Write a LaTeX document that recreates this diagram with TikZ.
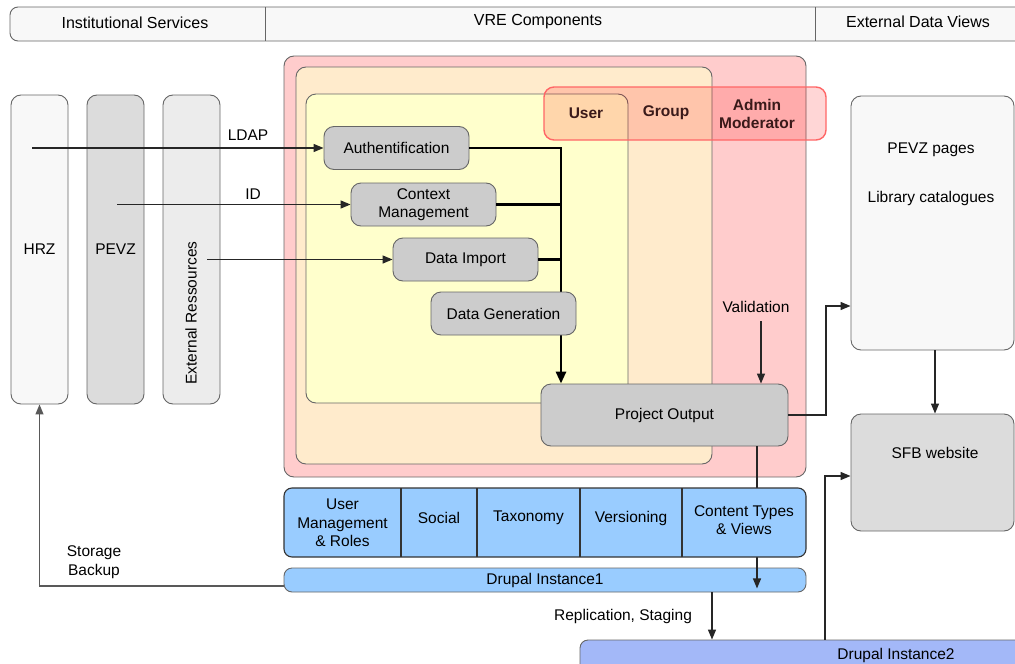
\documentclass[tikz,border=0pt]{standalone}
\usepackage{fontspec}
\setmainfont{Liberation Sans}
\usetikzlibrary{arrows.meta,calc}
\definecolor{pinkfill}{HTML}{FFCCCC}
\definecolor{orangefill}{HTML}{FFEBCC}
\definecolor{yellowfill}{HTML}{FFFFCC}
\definecolor{boxgray}{HTML}{CCCCCC}
\definecolor{midgray}{HTML}{DCDCDC}
\definecolor{lightgray}{HTML}{ECECEC}
\definecolor{palegray}{HTML}{F8F8F8}
\definecolor{bordergray}{HTML}{666666}
\definecolor{drupalblue}{HTML}{99CCFF}
\definecolor{drupaltwo}{HTML}{A3B8F8}
\definecolor{overlayred}{HTML}{FF6666}
\definecolor{rolestext}{HTML}{3A1A1A}
\newcommand\bodyf{\fontsize{15.5}{18.5}\selectfont}
\newcommand\hdrf{\fontsize{16}{19}\selectfont}
\begin{document}
\begin{tikzpicture}[x=1pt,y=-1pt,
  frame/.style={draw=bordergray, line width=0.9pt},
  colbox/.style={frame, rounded corners=10pt, minimum width=57pt, minimum height=309pt, inner sep=0pt, font=\bodyf},
  gbox/.style={frame, fill=boxgray, rounded corners=10pt, minimum width=145pt, minimum height=43pt, inner sep=0pt, font=\bodyf, align=center},
  txt/.style={inner sep=0pt, font=\bodyf, align=center},
  roletxt/.style={inner sep=0pt, font=\bodyf\bfseries, text=rolestext, align=center},
  arr/.style={-{Triangle[length=10pt,width=8pt]}, line width=1.3pt, draw=black!85},
  garr/.style={-{Triangle[length=10pt,width=8pt]}, line width=1.2pt, draw=black!65},
  tline/.style={line width=2.8pt, draw=black},
  tarr/.style={tline, -{Triangle[length=12pt,width=10pt]}}
]
\useasboundingbox (0,0) rectangle (1015,664);
\clip (0,0) rectangle (1015,664);

% header
\draw[frame, fill=palegray, rounded corners=8pt] (10,7) rectangle (1040,41);
\draw[frame] (265,7) -- (265,41);
\draw[frame] (815,7) -- (815,41);
\node[txt, font=\hdrf] (hIS) at (135,23) {Institutional Services};
\node[txt, font=\hdrf] (hVRE) at (538,22) {VRE Components};
\node[txt, font=\hdrf] (hEDV) at (918,22) {External Data Views};

% institutional columns
\node[colbox, fill=palegray] (HRZ) at (39.5,249.5) {HRZ};
\node[colbox, fill=midgray] (PEVZ) at (115.5,249.5) {PEVZ};
\node[colbox, fill=lightgray] (ExtR) at (191.5,249.5) {};
\node[txt, rotate=90] (ExtRlabel) at (191,313) {External Ressources};

% VRE nested areas
\node[frame, fill=pinkfill, rounded corners=10pt, minimum width=522pt, minimum height=421pt] (VRE) at (545,266.5) {};
\node[frame, fill=orangefill, rounded corners=10pt, minimum width=416pt, minimum height=397pt] (GRP) at (504,265.5) {};
\node[frame, fill=yellowfill, rounded corners=10pt, minimum width=322pt, minimum height=309pt] (USR) at (467,248.5) {};

% roles overlay
\node[draw=overlayred, line width=1.4pt, fill=red, fill opacity=0.16, draw opacity=1, rounded corners=10pt, minimum width=282pt, minimum height=53pt] (Roles) at (685,113.5) {};
\node[roletxt] (rUser) at (586,113) {User};
\node[roletxt] (rGroup) at (666,113) {Group};
\node[roletxt] (rAdmin) at (757,114) {Admin\\Moderator};

% process boxes
\node[gbox] (Auth) at (396.5,148) {Authentification};
\node[gbox] (Ctx) at (423.5,204.5) {Context\\Management};
\node[gbox] (DI) at (465.5,259.5) {Data Import};
\node[gbox, minimum width=247pt, minimum height=62pt] (PO) at (664.5,415) {Project Output};

% thick bus
\coordinate (bus) at (561,0);
\draw[tarr] (Auth.east) -| (bus |- PO.north);
\draw[tline] (Ctx.east) -- (Ctx.east -| bus);
\draw[tline] (DI.east) -- (DI.east -| bus);
\node[gbox] (DG) at (503.5,313.5) {Data Generation};

% inputs
\coordinate (ldapS) at (32,0);
\coordinate (idS) at (117,0);
\coordinate (extS) at (207,0);
\draw[arr] (ldapS |- Auth.west) -- (Auth.west);
\node[txt] (LDAP) at (248,135) {LDAP};
\draw[arr] (idS |- Ctx.west) -- (Ctx.west);
\node[txt] (IDl) at (253,194) {ID};
\draw[arr] (extS |- DI.west) -- (DI.west);

% validation
\node[txt] (Val) at (756,307) {Validation};
\coordinate (valx) at (761,0);
\draw[arr] (valx |- 0,321) -- (valx |- PO.north);

% external data views
\node[frame, fill=palegray, rounded corners=10pt, minimum width=163pt, minimum height=254pt] (PP) at (932.5,223) {};
\node[txt] (PPt1) at (931,150) {PEVZ pages};
\node[txt] (PPt2) at (931,198) {Library catalogues};
\node[frame, fill=midgray, rounded corners=10pt, minimum width=163pt, minimum height=117pt] (SFB) at (932.5,472.5) {};
\node[txt] (SFBt) at (935,453) {SFB website};
\coordinate (elbowA) at (826,306);
\draw[arr] (PO.east) -| (elbowA) -- (PP.west |- elbowA);
\draw[arr] (PP.south -| 935,0) -- (SFB.north -| 935,0);

% drupal instances
\node[frame, fill=drupalblue, rounded corners=8pt, minimum width=522pt, minimum height=24pt, inner sep=0pt, font=\bodyf] (D1) at (545,580) {Drupal Instance1};
\node[frame, fill=drupaltwo, rounded corners=8pt, minimum width=450pt, minimum height=40pt] (D2) at (805,660) {};
\node[txt] (D2t) at (896,655) {Drupal Instance2};

\coordinate (dx) at (757,0);
\draw[arr, shorten >=4pt] (dx |- PO.south) -- (dx |- D1.south);

% drupal components
\node[draw=black!80, line width=1.1pt, fill=drupalblue, rounded corners=8pt, minimum width=522pt, minimum height=69pt] (Comp) at (545,522.5) {};
\draw[black!80, line width=1.1pt] (401,488) -- (401,557);
\draw[black!80, line width=1.1pt] (477,488) -- (477,557);
\draw[black!80, line width=1.1pt] (580,488) -- (580,557);
\draw[black!80, line width=1.1pt] (682,488) -- (682,557);
\node[txt] (cUM) at (342.5,523) {User\\Management\\\& Roles};
\node[txt] (cSo) at (439,518) {Social};
\node[txt] (cTa) at (528.5,518) {Taxonomy};
\node[txt] (cVe) at (631,518) {Versioning};
\node[txt] (cCT) at (744,520) {Content Types\\\& Views};

% storage backup
\draw[garr] ([yshift=-6pt]D1.west) -| (HRZ.south);
\node[txt] (SB) at (94,562) {Storage\\Backup};

% replication
\coordinate (rep) at (712,0);
\draw[arr] (rep |- D1.south) -- (rep |- D2.north);
\node[txt] (Rep) at (623,616) {Replication, Staging};

% instance2 to SFB
\coordinate (upx) at (825,0);
\draw[arr] (upx |- D2.north) |- ([yshift=-3.5pt]SFB.west);
\end{tikzpicture}
\end{document}
